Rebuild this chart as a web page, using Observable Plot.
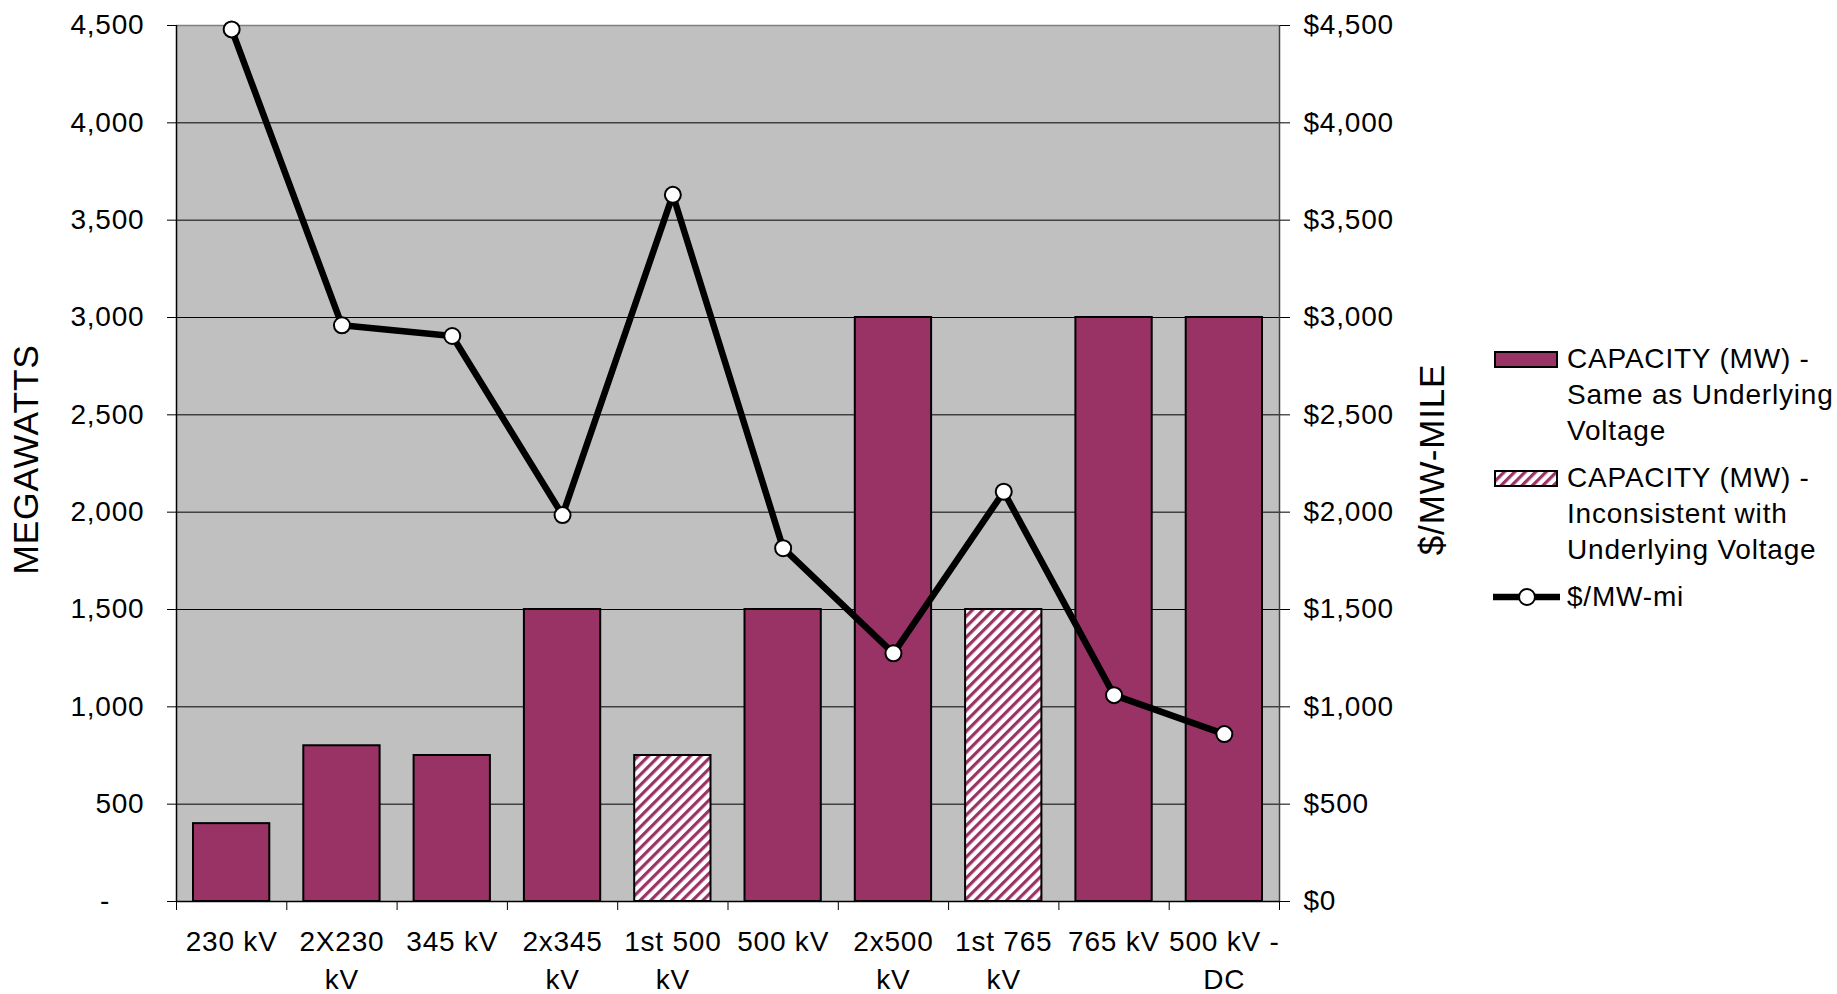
<!DOCTYPE html>
<html>
<head>
<meta charset="utf-8">
<script src="https://cdn.jsdelivr.net/npm/d3@7"></script>
<script src="https://cdn.jsdelivr.net/npm/@observablehq/plot@0.6"></script>
<style>
  html, body { margin: 0; padding: 0; background: #fff; }
  #wrap { position: relative; width: 1837px; height: 994px; font-family: "Liberation Sans", Arial, sans-serif; }
  #chart svg text { letter-spacing: 0.8px; }
  .legend-entry { position: absolute; left: 1493px; font-size: 28px; line-height: 36px; color: #000; white-space: nowrap; letter-spacing: 0.8px; }
  .legend-entry svg { position: absolute; left: 0; }
  .legend-entry .txt { position: absolute; left: 74px; top: 0; }
</style>
</head>
<body>
<svg width="0" height="0" style="position:absolute">
  <defs>
    <pattern id="hatch" patternUnits="userSpaceOnUse" width="7.4" height="7.4" patternTransform="rotate(45)">
      <rect width="7.4" height="7.4" fill="#ffffff"></rect>
      <rect width="3.2" height="7.4" fill="#993366"></rect>
    </pattern>
  </defs>
</svg>
<div id="wrap">
  <div id="chart"></div>
  <div class="legend-entry" style="top:341px;">
    <svg width="66" height="36"><rect x="2" y="11" width="62" height="15" fill="#993366" stroke="#000" stroke-width="2"></rect></svg>
    <div class="txt">CAPACITY (MW) -<br>Same as Underlying<br>Voltage</div>
  </div>
  <div class="legend-entry" style="top:460px;">
    <svg width="66" height="36"><rect x="2" y="11" width="62" height="15" fill="url(#hatch)" stroke="#000" stroke-width="2"></rect></svg>
    <div class="txt">CAPACITY (MW) -<br>Inconsistent with<br>Underlying Voltage</div>
  </div>
  <div class="legend-entry" style="top:579px;">
    <svg width="70" height="36"><line x1="0" y1="18" x2="67" y2="18" stroke="#000" stroke-width="6.5"></line><circle cx="34" cy="18" r="8" fill="#fff" stroke="#000" stroke-width="2"></circle></svg>
    <div class="txt">$/MW-mi</div>
  </div>
</div>
<script>
const categories = ["230 kV", "2X230\nkV", "345 kV", "2x345\nkV", "1st 500\nkV", "500 kV", "2x500\nkV", "1st 765\nkV", "765 kV", "500 kV -\nDC"];
const capacityMW = [400, 800, 750, 1500, 750, 1500, 3000, 1500, 3000, 3000];
const costPerMWMile = [4480, 2960, 2905, 1985, 3630, 1815, 1275, 2105, 1060, 860];
const inconsistent = [false, false, false, false, true, false, false, true, false, false];
const yTicks = [0, 500, 1000, 1500, 2000, 2500, 3000, 3500, 4000, 4500];
const gridValues = [500, 1000, 1500, 2000, 2500, 3000, 3500, 4000];
const categoryBounds = [0, 1, 2, 3, 4, 5, 6, 7, 8, 9, 10];

const data = categories.map((c, i) => ({
  i, label: c, mw: capacityMW[i], cost: costPerMWMile[i], hatched: inconsistent[i]
}));

const comma = d3.format(",");
const font = "Liberation Sans, Arial, sans-serif";

const chart = Plot.plot({
  width: 1837,
  height: 994,
  marginLeft: 176,
  marginRight: 558,
  marginTop: 25,
  marginBottom: 93,
  style: { fontFamily: font, fontSize: "28px", background: "transparent", color: "#000" },
  x: { domain: [0, categories.length], axis: null },
  y: { domain: [0, 4500], axis: null },
  marks: [
    Plot.frame({ fill: "#c0c0c0", stroke: "none" }),
    Plot.ruleY(gridValues, { stroke: "#000", strokeWidth: 1 }),
    Plot.ruleY([4500], { stroke: "#808080", strokeWidth: 1.5 }),
    Plot.rectY(data, { filter: d => !d.hatched, x1: "i", x2: d => d.i + 1, y1: 0, y2: "mw", insetLeft: 17, insetRight: 17, fill: "#993366", stroke: "#000", strokeWidth: 2 }),
    Plot.rectY(data, { filter: d => d.hatched, x1: "i", x2: d => d.i + 1, y1: 0, y2: "mw", insetLeft: 17, insetRight: 17, fill: "url(#hatch)", stroke: "#000", strokeWidth: 2 }),
    Plot.ruleX([0], { stroke: "#000", strokeWidth: 1.5 }),
    Plot.ruleX([categories.length], { stroke: "#404040", strokeWidth: 1.5 }),
    Plot.ruleY([0], { stroke: "#000", strokeWidth: 1.5 }),
    Plot.axisX({ ticks: categoryBounds, tickSize: 9, tickFormat: () => "", label: null, stroke: "#000" }),
    Plot.text(data, { x: d => d.i + 0.5, frameAnchor: "bottom", text: "label", lineAnchor: "top", dy: 23, lineHeight: 1.34, fontSize: 28, fill: "#000" }),
    Plot.axisY({ anchor: "left", ticks: yTicks, tickSize: 9, tickPadding: 23, fontSize: 28,
      tickFormat: d => d === 0 ? "-\u00a0\u00a0\u00a0\u00a0" : comma(d), label: null }),
    Plot.axisY({ anchor: "right", ticks: yTicks, tickSize: 10, tickPadding: 14, fontSize: 28,
      tickFormat: d => "$" + comma(d), label: null }),
    Plot.text(["MEGAWATTS"], { frameAnchor: "left", textAnchor: "middle", rotate: -90, dx: -150, dy: -4, fontSize: 35.5, fill: "#000" }),
    Plot.text(["$/MW-MILE"], { frameAnchor: "right", textAnchor: "middle", rotate: -90, dx: 153, dy: -4, fontSize: 35, fill: "#000" }),
    Plot.line(data, { x: d => d.i + 0.5, y: "cost", stroke: "#000", strokeWidth: 6.5 }),
    Plot.dot(data, { x: d => d.i + 0.5, y: "cost", r: 8, fill: "#fff", stroke: "#000", strokeWidth: 2 })
  ]
});
document.getElementById("chart").appendChild(chart);
</script>
</body>
</html>
